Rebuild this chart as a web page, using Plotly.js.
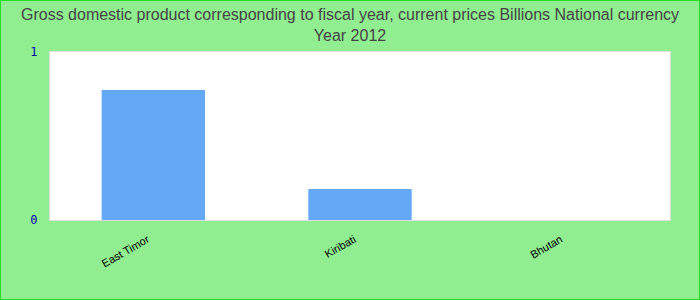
<!DOCTYPE html>
<html>
<head>
<meta charset="utf-8">
<script src="https://cdn.plot.ly/plotly-3.0.1.min.js"></script>
<style>
html,body{margin:0;padding:0;background:#90ee90;}
#frame{width:698px;height:298px;border:1px solid #22dd22;}
#chart{width:698px;height:298px;}
</style>
</head>
<body>
<div id="frame"><div id="chart"></div></div>
<script>
const categories = ["East Timor", "Kiribati", "Bhutan"];
const values = [0.774, 0.185, 0];
const yTickVals = [0, 1];
const yTickText = ["0", "1"];

const trace = {
  type: "bar",
  x: categories,
  y: values,
  marker: {color: "#63a9f5"},
  hoverinfo: "x+y"
};

const layout = {
  width: 698,
  height: 298,
  margin: {l: 49, r: 29, t: 51, b: 79},
  paper_bgcolor: "#90ee90",
  plot_bgcolor: "#ffffff",
  bargap: 0.5,
  showlegend: false,
  title: {
    text: "Gross domestic product corresponding to fiscal year, current prices Billions National currency<br>Year 2012",
    font: {family: "Liberation Sans, Arial, sans-serif", size: 16, color: "#444444"},
    x: 0.5, xanchor: "center", xref: "container",
    y: 0.945, yref: "container", yanchor: "top",
    pad: {t: 3}
  },
  xaxis: {
    type: "category",
    tickangle: -30,
    tickfont: {family: "Liberation Sans, Arial, sans-serif", size: 11, color: "#000000"},
    showgrid: false,
    showline: true, mirror: true, linecolor: "#dddddd", linewidth: 1,
    ticks: "", zeroline: false,
    ticklabelstandoff: 8, ticklabelshift: -6
  },
  yaxis: {
    range: [0, 1],
    tickvals: yTickVals,
    ticktext: yTickText,
    tickfont: {family: "DejaVu Sans Mono, monospace", size: 12, color: "#0000aa"},
    showgrid: false,
    showline: true, mirror: true, linecolor: "#dddddd", linewidth: 1,
    zeroline: false, ticks: "", ticklabelstandoff: 9
  }
};

Plotly.newPlot("chart", [trace], layout, {displayModeBar: false, staticPlot: true});
</script>
</body>
</html>
